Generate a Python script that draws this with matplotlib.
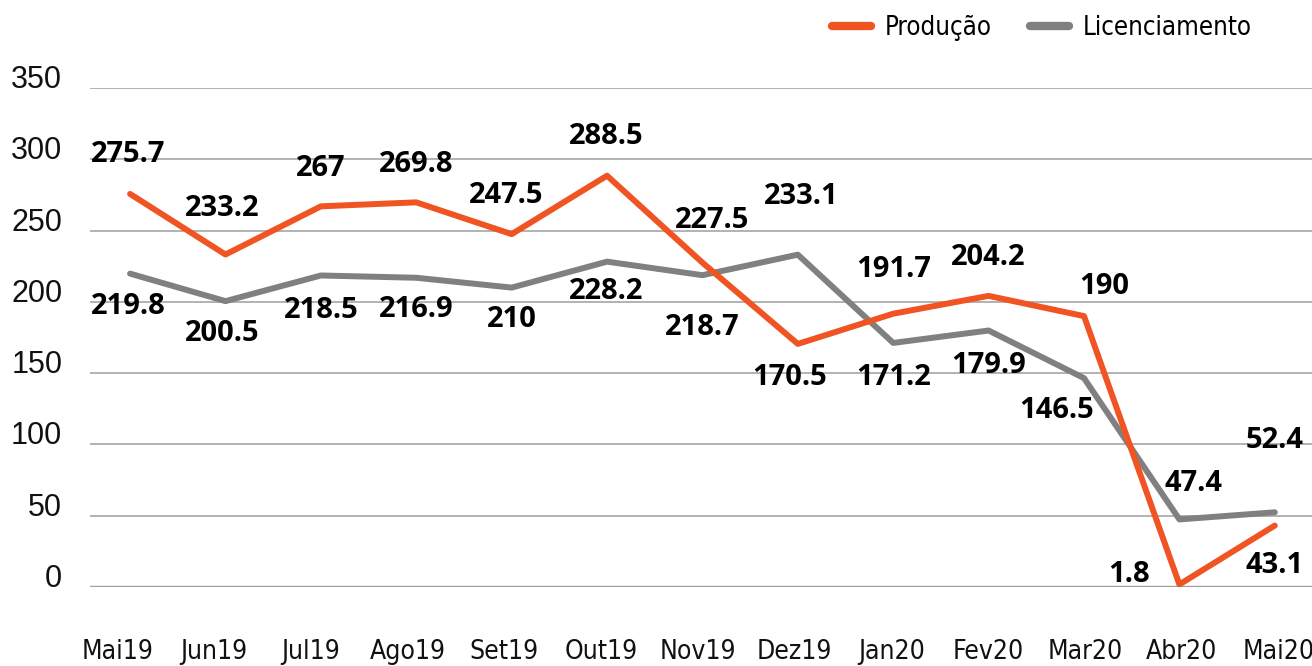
import matplotlib
matplotlib.use("Agg")
import matplotlib.pyplot as plt
from matplotlib import font_manager

meses = ["Mai19", "Jun19", "Jul19", "Ago19", "Set19", "Out19", "Nov19",
         "Dez19", "Jan20", "Fev20", "Mar20", "Abr20", "Mai20"]
producao = [275.7, 233.2, 267, 269.8, 247.5, 288.5, 227.5,
            170.5, 191.7, 204.2, 190, 1.8, 43.1]
licenciamento = [219.8, 200.5, 218.5, 216.9, 210, 228.2, 218.7,
                 233.1, 171.2, 179.9, 146.5, 47.4, 52.4]

# label offsets in pixels (dx, dy) from each point
off_prod = [(-2, 39), (-3, 46), (0, 38), (0, 38), (-5, 39), (-1, 39), (10, 42),
            (-8, -34), (0, 44), (0, 38), (20, 30), (-50, 10), (0, -40)]
off_lic = [(-2, -33), (-3, -32), (0, -35), (0, -32), (0, -32), (-1, -30), (0, -52),
           (3, 58), (0, -35), (0, -35), (-27, -32), (14, 36), (0, 72)]

ORANGE = "#f05423"
GRAY = "#808080"

# condensed face for the month labels and legend
cond = None
for f in font_manager.fontManager.ttflist:
    if f.fname.endswith("DejaVuSansCondensed.ttf"):
        cond = f.fname
        break
if cond:
    cond_font = font_manager.FontProperties(fname=cond, size=19)
else:
    cond_font = font_manager.FontProperties(family="DejaVu Sans", size=17)

fig = plt.figure(figsize=(13.12, 6.66), dpi=100)
ax = fig.add_axes([90 / 1312, 1 - 587 / 666, 1 - 90 / 1312, (587 - 88) / 666])

x = list(range(len(meses)))
ax.plot(x, producao, color=ORANGE, lw=4.3, solid_capstyle="round",
        solid_joinstyle="round", label="Produção", zorder=3)
ax.plot(x, licenciamento, color=GRAY, lw=4.3, solid_capstyle="round",
        solid_joinstyle="round", label="Licenciamento", zorder=2)

lab_font = dict(family=["Open Sans", "DejaVu Sans"], fontsize=21, fontweight="bold",
                color="#000000")
for i, v in enumerate(producao):
    ax.annotate(f"{v:g}", (i, v), xytext=off_prod[i], textcoords="offset pixels",
                ha="center", va="center", annotation_clip=False, zorder=5, **lab_font)
for i, v in enumerate(licenciamento):
    ax.annotate(f"{v:g}", (i, v), xytext=off_lic[i], textcoords="offset pixels",
                ha="center", va="center", annotation_clip=False, zorder=5, **lab_font)

ax.set_xlim(-0.42, 12.39)
ax.set_ylim(0, 350)
ax.set_yticks(range(0, 351, 50))
ax.set_xticks(x)
ax.set_xticklabels([])
# month labels are spaced a bit wider than the points
for i, m in enumerate(meses):
    ax.annotate(m, (i, 0), xycoords=("data", "axes fraction"),
                xytext=(-13 + 1.4 * i, -72), textcoords="offset pixels",
                ha="center", va="baseline", fontproperties=cond_font,
                color="#111111", annotation_clip=False)

for t in ax.yaxis.get_major_ticks():
    t.label1.set_verticalalignment("baseline")
    t.label1.set_family(["Liberation Sans", "DejaVu Sans"])
    t.label1.set_fontsize(22)
    t.label1.set_color("#111111")
ax.tick_params(axis="y", length=0, pad=20)
ax.tick_params(axis="x", length=0)

ax.grid(axis="y", color="#a6a6a6", lw=1.2)
ax.axhline(0, color="#8c8c8c", lw=2.4, zorder=1)
for s in ax.spines.values():
    s.set_visible(False)

leg_font = cond_font.copy()
leg_font.set_size(18.5)
leg = ax.legend(loc="center right", bbox_to_anchor=(1252 / 1312, 1 - 28 / 666),
                bbox_transform=fig.transFigure, ncol=2, frameon=False,
                prop=leg_font,
                handlelength=1.5, handletextpad=0.55, columnspacing=1.5,
                borderpad=0, borderaxespad=0)
for h in leg.get_lines():
    h.set_linewidth(6)
    h.set_solid_capstyle("round")

fig.savefig("out.png", dpi=100)
